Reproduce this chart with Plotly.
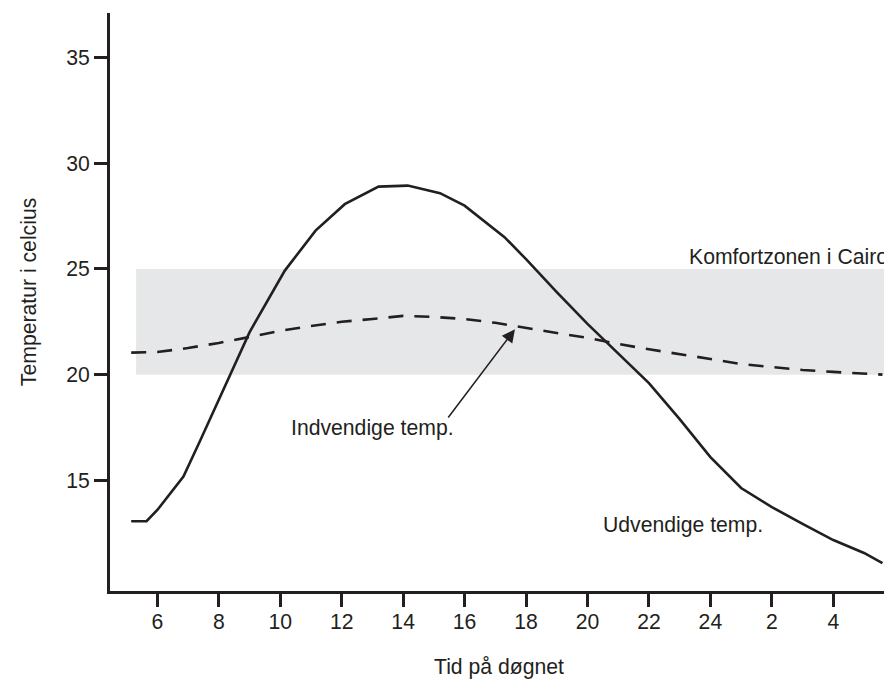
import plotly.graph_objects as go

# ---- data ----
hours_out = [5.15, 5.65, 6.0, 6.85, 7.4, 8.0, 9.0, 10.15, 11.15, 12.1, 13.2, 14.15,
             15.2, 16.0, 17.3, 18.0, 19.0, 20.0, 21.0, 22.0, 23.0, 24.0, 25.0, 26.0,
             27.0, 28.0, 29.0, 29.6]
temp_out = [13.07, 13.07, 13.6, 15.18, 16.9, 18.8, 22.0, 24.92, 26.81, 28.06, 28.89, 28.94,
            28.58, 27.99, 26.5, 25.46, 23.9, 22.4, 21.0, 19.6, 17.9, 16.1, 14.64, 13.74,
            12.94, 12.18, 11.57, 11.09]

hours_in = [5.15, 6, 7, 8, 9, 10, 11, 12, 13, 14, 15, 16, 17, 18, 19, 20, 21, 22, 23,
            24, 25, 26, 27, 28, 29, 29.6]
temp_in = [21.04, 21.07, 21.26, 21.5, 21.78, 22.07, 22.3, 22.5, 22.63, 22.78, 22.73, 22.63,
           22.45, 22.2, 21.97, 21.74, 21.45, 21.2, 20.98, 20.74, 20.5, 20.36, 20.22, 20.13,
           20.03, 20.0]

comfort_low, comfort_high = 20, 25
comfort_start = 5.31

x_tickvals = [6, 8, 10, 12, 14, 16, 18, 20, 22, 24, 26, 28]
x_ticktext = ["6", "8", "10", "12", "14", "16", "18", "20", "22", "24", "2", "4"]
y_tickvals = [15, 20, 25, 30, 35]

INK = "#231f20"
FONT = "Liberation Sans, Arial, Helvetica, sans-serif"
FS = 21.2

fig = go.Figure()

fig.add_shape(type="rect", xref="x", yref="y", x0=comfort_start, x1=31,
              y0=comfort_low, y1=comfort_high, fillcolor="#e6e7e8",
              line=dict(width=0), layer="below")

fig.add_trace(go.Scatter(x=hours_out, y=temp_out, mode="lines",
                         line=dict(color=INK, width=2.6), showlegend=False,
                         hoverinfo="skip"))
fig.add_trace(go.Scatter(x=hours_in, y=temp_in, mode="lines",
                         line=dict(color=INK, width=2.6, dash="15px,11px"),
                         showlegend=False, hoverinfo="skip"))

fig.add_annotation(x=23.24, y=25.61, xref="x", yref="y", text="Komfortzonen i Cairo",
                   showarrow=False, xanchor="left", yanchor="middle",
                   font=dict(family=FONT, size=FS, color=INK))
fig.add_annotation(x=20.45, y=12.89, xref="x", yref="y", text="Udvendige temp.",
                   showarrow=False, xanchor="left", yanchor="middle",
                   font=dict(family=FONT, size=FS, color=INK))
fig.add_annotation(x=10.29, y=17.48, xref="x", yref="y", text="Indvendige temp.",
                   showarrow=False, xanchor="left", yanchor="middle",
                   font=dict(family=FONT, size=FS, color=INK))
fig.add_annotation(x=17.64, y=22.15, ax=15.43, ay=17.9, xref="x", yref="y",
                   axref="x", ayref="y", text="", showarrow=True,
                   arrowhead=2, arrowsize=1.75, arrowwidth=1.5, arrowcolor=INK,
                   standoff=0)

# axis titles
fig.add_annotation(x=-0.1047, y=0.517, xref="paper", yref="paper",
                   text="Temperatur i celcius", textangle=-90, showarrow=False,
                   xanchor="center", yanchor="middle",
                   font=dict(family=FONT, size=FS, color=INK))
fig.add_annotation(x=0.5026, y=-0.1315, xref="paper", yref="paper",
                   text="Tid på døgnet", showarrow=False,
                   xanchor="center", yanchor="middle",
                   font=dict(family=FONT, size=FS, color=INK))

fig.update_xaxes(range=[4.46, 29.65], tickvals=x_tickvals, ticktext=x_ticktext,
                 showgrid=False, zeroline=False, showline=True, linecolor=INK,
                 linewidth=3, ticks="outside", ticklen=13, tickwidth=3,
                 ticklabelstandoff=-3,
                 tickcolor=INK, tickfont=dict(family=FONT, size=FS, color=INK))
fig.update_yaxes(range=[9.77, 37.1], tickvals=y_tickvals,
                 showgrid=False, zeroline=False, showline=True, linecolor=INK,
                 linewidth=3, ticks="outside", ticklen=13, tickwidth=3,
                 tickcolor=INK, tickfont=dict(family=FONT, size=FS, color=INK))

fig.update_layout(width=884, height=680, margin=dict(l=110, r=0, t=13, b=89),
                  plot_bgcolor="white", paper_bgcolor="white")

fig.write_html("out.html", config={"displayModeBar": False},
               post_script="document.body.style.margin='0';"
                           "document.body.style.overflow='hidden';")
